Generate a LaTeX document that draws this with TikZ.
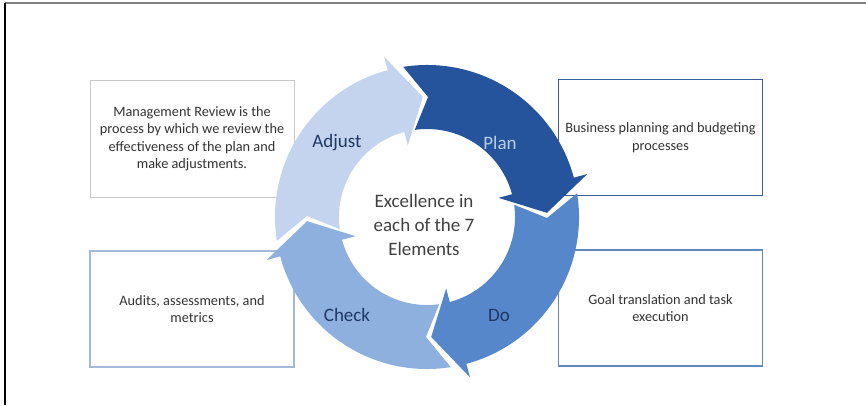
\documentclass[tikz,border=0pt]{standalone}
\usepackage{fontspec}
\setmainfont{Carlito}
\definecolor{adjustfill}{HTML}{C4D4EE}
\definecolor{planfill}{HTML}{25549C}
\definecolor{dofill}{HTML}{5687CA}
\definecolor{checkfill}{HTML}{8EB0DF}
\definecolor{navy}{HTML}{1F3864}
\definecolor{planlabel}{HTML}{B8CCE8}
\definecolor{reviewline}{HTML}{C9C9C9}
\definecolor{planline}{HTML}{3E5E9A}
\definecolor{doline}{HTML}{6385C0}
\definecolor{checkline}{HTML}{A7B9DB}

\begin{document}
\begin{tikzpicture}
[
    x=1pt, y=1pt,
    infobox/.style={draw, line width=1.8pt, fill=white, minimum width=204pt, minimum height=116pt, align=center, font=\fontsize{14.3}{17.5}\selectfont, text=black!80},
    steplabel/.style={font=\fontsize{19}{22}\selectfont, text=navy},
]
\useasboundingbox (0,0) rectangle (866,405);
\draw[gray, line width=1.5pt] (5,402) -- (866,402);
\draw[black, line width=1.2pt] (5,402) -- (5,0);

\node[infobox, draw=reviewline, line width=1pt] (review) at (192,266)
{Management Review is the\\process by which we review the\\effectiveness of the plan and\\make adjustments.};
\node[infobox, draw=planline] (budget) at (660.5,267.5)
{Business planning and budgeting\\processes};
\node[infobox, draw=checkline] (audits) at (192,96)
{Audits, assessments, and\\metrics};
\node[infobox, draw=doline] (goals) at (660.5,97)
{Goal translation and task\\execution};

\begin{scope}[shift={(427,188)}]
\foreach \tail/\col in {90/planfill, 0/dofill, -90/checkfill, 180/adjustfill}
{
  \pgfmathsetmacro{\head}{\tail-90}
  \fill[\col] ({\tail+9}:152) arc[start angle=\tail+9, end angle=\head+15, radius=152]
    -- ({\head+15}:166) -- ({\head+2}:120) -- ({\head+15}:74) -- ({\head+15}:88)
    arc[start angle=\head+15, end angle=\tail+8, radius=88]
    -- ({\tail-0.5}:120) -- cycle;
}
\end{scope}

\node[steplabel] (adjust) at (337,262) {Adjust};
\node[steplabel, text=planlabel] (plan) at (500,262) {Plan};
\node[steplabel] (check) at (347,90) {Check};
\node[steplabel] (do) at (499,90) {Do};
\node[align=center, font=\fontsize{19}{24}\selectfont, text=black!75] (core) at (424,180)
{Excellence in\\each of the 7\\Elements};
\end{tikzpicture}
\end{document}
